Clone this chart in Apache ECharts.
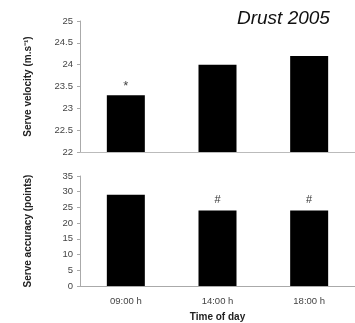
<!DOCTYPE html>
<html>
<head>
<meta charset="utf-8">
<script src="https://cdn.jsdelivr.net/npm/echarts@6/dist/echarts.min.js"></script>
<style>
  html, body { margin: 0; padding: 0; background: #fff; }
  #chart { width: 355px; height: 323px; }
</style>
</head>
<body>
<div id="chart"></div>
<script>
// Serve performance by time of day
var categories = ['09:00 h', '14:00 h', '18:00 h'];
var velocity = [23.3, 24.0, 24.2];          // serve velocity, m/s
var accuracy = [29, 24, 24];                // serve accuracy, points
var velocityMarks = ['*', '', ''];
var accuracyMarks = ['', '#', '#'];
var velocityTicks = { min: 22, max: 25, interval: 0.5 };
var accuracyTicks = { min: 0, max: 35, interval: 5 };

var FONT = 'Liberation Sans, Arial, sans-serif';

function withMarks(values, marks) {
  return values.map(function (v, i) {
    return {
      value: v,
      label: {
        show: marks[i] !== '',
        formatter: marks[i]
      }
    };
  });
}

function valueAxis(gridIndex, ticks, name) {
  return {
    type: 'value',
    gridIndex: gridIndex,
    min: ticks.min,
    max: ticks.max,
    interval: ticks.interval,
    name: name,
    nameLocation: 'middle',
    nameGap: 47,
    nameTextStyle: { fontFamily: FONT, fontWeight: 'bold', fontSize: 10, color: '#222' },
    axisLine: { show: true, lineStyle: { color: '#aaa', width: 1 } },
    axisTick: { show: true, length: 3, lineStyle: { color: '#aaa' } },
    axisLabel: { fontFamily: FONT, fontSize: 9.5, color: '#444', margin: 7 },
    splitLine: { show: false }
  };
}

var chart = echarts.init(document.getElementById('chart'), null, { renderer: 'canvas' });

chart.setOption({
  animation: false,
  backgroundColor: '#fff',
  title: {
    text: 'Drust 2005',
    left: 232,
    top: 4,
    textStyle: { fontFamily: FONT, fontStyle: 'italic', fontWeight: 'normal', fontSize: 19, color: '#111' }
  },
  grid: [
    { left: 80, top: 21, width: 280, height: 131 },
    { left: 80, top: 176, width: 280, height: 111 }
  ],
  xAxis: [
    {
      type: 'category', gridIndex: 0, data: categories,
      axisLine: { lineStyle: { color: '#bbb', width: 1 } },
      axisTick: { show: false },
      axisLabel: { show: false }
    },
    {
      type: 'category', gridIndex: 1, data: categories,
      name: 'Time of day',
      nameLocation: 'middle',
      nameGap: 26,
      nameTextStyle: { fontFamily: FONT, fontWeight: 'bold', fontSize: 10, color: '#222' },
      axisLine: { lineStyle: { color: '#aaa', width: 1 } },
      axisTick: { show: false },
      axisLabel: { fontFamily: FONT, fontSize: 9.5, color: '#444', margin: 10 }
    }
  ],
  yAxis: [
    valueAxis(0, velocityTicks, 'Serve velocity (m.s\u207B\u00B9)'),
    valueAxis(1, accuracyTicks, 'Serve accuracy (points)')
  ],
  series: [
    {
      type: 'bar',
      xAxisIndex: 0, yAxisIndex: 0,
      barWidth: 38,
      itemStyle: { color: '#000' },
      label: { position: 'top', distance: 2, fontFamily: FONT, fontSize: 13, color: '#444' },
      data: withMarks(velocity, velocityMarks)
    },
    {
      type: 'bar',
      xAxisIndex: 1, yAxisIndex: 1,
      barWidth: 38,
      itemStyle: { color: '#000' },
      label: { position: 'top', distance: 5, fontFamily: FONT, fontSize: 11, color: '#333' },
      data: withMarks(accuracy, accuracyMarks)
    }
  ]
});
</script>
</body>
</html>
